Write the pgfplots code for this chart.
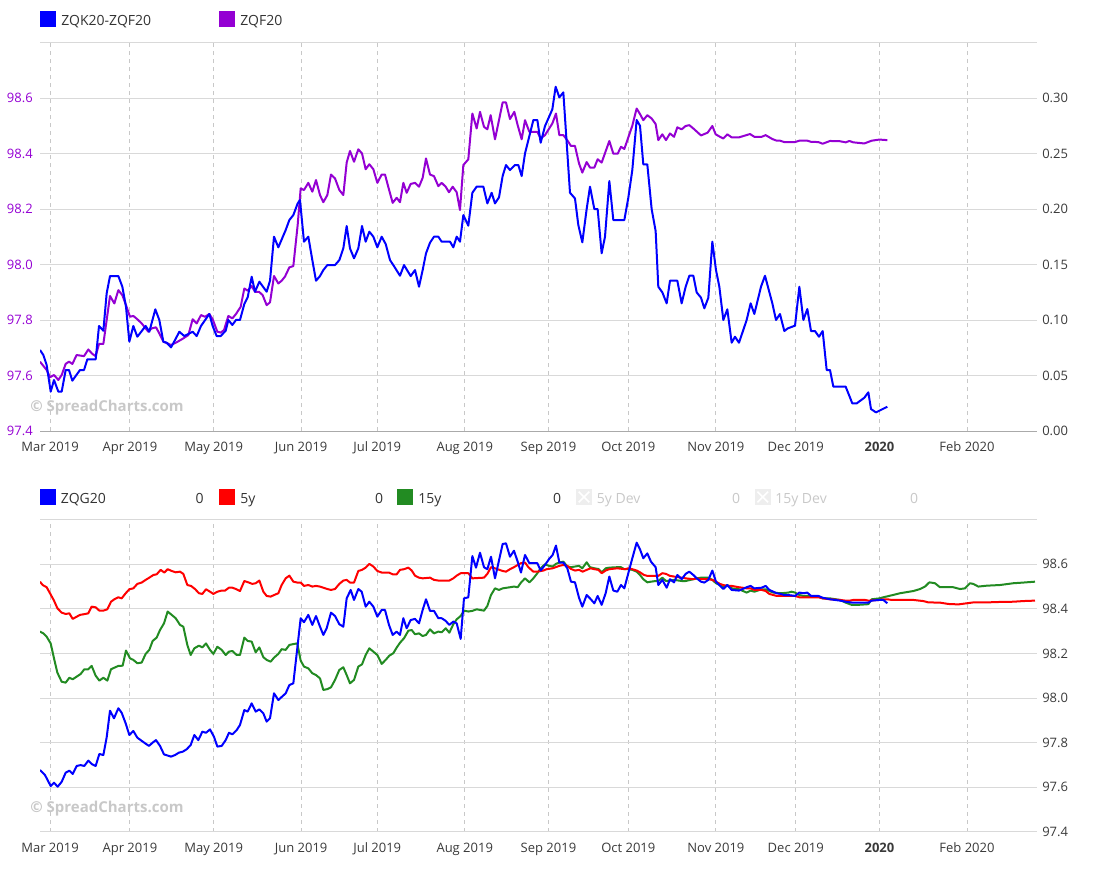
\documentclass[border=0pt]{standalone}
\usepackage{fontspec}
\setmainfont{Open Sans}
\usepackage{pgfplots}
\pgfplotsset{compat=1.18}
\definecolor{zqblue}{HTML}{0000FF}
\definecolor{zqpurple}{HTML}{9400D3}
\definecolor{fivered}{HTML}{FF0000}
\definecolor{fifgreen}{HTML}{228B22}
\definecolor{gridc}{HTML}{D9D9D9}
\definecolor{vgrid}{HTML}{C8C8C8}
\definecolor{axisc}{HTML}{AAAAAA}
\definecolor{labc}{HTML}{3A3A3A}
\definecolor{legc}{HTML}{333333}
\definecolor{hidc}{HTML}{C8C8C8}
\definecolor{hidbox}{HTML}{EEEEEE}
\definecolor{wmark}{HTML}{C8C8C8}
\pgfplotsset{
  common/.style={
    scale only axis, width=747.75pt,
    xmin=-2.63, xmax=259.4,
    xtick={0,21,43,66,86,109,131,152,175,196,218,241},
    xticklabels={Mar 2019,Apr 2019,May 2019,Jun 2019,Jul 2019,Aug 2019,Sep 2019,Oct 2019,Nov 2019,Dec 2019,{\bfseries 2020},Feb 2020},
    major tick length=0pt,
    tick style={draw=none},
    tick label style={font=\fontsize{9.75pt}{11pt}\selectfont, text=labc, inner sep=0pt},
    xticklabel style={anchor=base, yshift=-15.4pt},
    x grid style={vgrid, line width=0.75pt, dash pattern=on 3pt off 3pt},
    y grid style={gridc, line width=0.75pt},
    every axis plot/.append style={line width=1.5pt, line join=round, mark=none},
  },
}
\tikzset{
  legtext/.style={font=\fontsize{10.5pt}{12pt}\selectfont, text=legc, inner sep=0pt, anchor=base west},
  legval/.style={font=\fontsize{10.5pt}{12pt}\selectfont, text=legc, inner sep=0pt, anchor=base},
  wm/.style={font=\fontsize{11.25pt}{13pt}\selectfont\bfseries, text=wmark, inner sep=0pt, anchor=west},
}
\begin{document}
\begin{tikzpicture}
\useasboundingbox (0,0) rectangle (840pt,-651pt);
% watermarks (behind the plots)
\node[wm] at (22.5pt,-306pt) {© SpreadCharts.com};
\node[wm] at (22.5pt,-606.5pt) {© SpreadCharts.com};
% ---------------- top chart, left axis (ZQF20) ----------------
\begin{axis}[common, height=291.15pt, at={(30pt,-323.25pt)}, anchor=south west,
  ymin=97.4, ymax=98.8,
  ytick={97.4,97.6,97.8,98.0,98.2,98.4,98.6,98.8},
  yticklabels={97.4,97.6,97.8,98.0,98.2,98.4,98.6,{}},
  yticklabel style={anchor=east, xshift=-5.25pt, text=zqpurple},
  xmajorgrids, ymajorgrids,
  axis x line*=bottom, axis y line*=left, y axis line style={draw=none},
  x axis line style={draw=axisc, line width=0.75pt},
]
\addplot[zqpurple] coordinates {
(-2.63,97.650) (-0.88,97.620) (0.0,97.594) (1.05,97.602) (2.19,97.584) (3.07,97.602) (4.12,97.642) (4.99,97.650) (5.87,97.642) (7.01,97.674) (8.94,97.670) (10.07,97.694) (11.13,97.678) (12.0,97.670) (12.88,97.714) (14.02,97.714) (14.89,97.800) (15.77,97.887) (16.91,97.860) (17.96,97.908) (19.01,97.890) (19.97,97.854) (21.02,97.812) (21.9,97.815) (22.95,97.803) (24.09,97.788) (25.84,97.758) (26.72,97.770) (27.86,97.774) (28.73,97.752) (29.79,97.722) (30.92,97.716) (31.8,97.710) (33.29,97.720) (35.04,97.734) (36.36,97.746) (37.49,97.803) (38.55,97.788) (39.68,97.818) (40.74,97.812) (41.87,97.822) (42.75,97.803) (43.98,97.758) (44.85,97.755) (45.73,97.764) (46.87,97.815) (47.92,97.806) (48.88,97.822) (50.11,97.848) (51.07,97.914) (51.95,97.906) (53.0,97.923) (53.88,97.902) (54.93,97.902) (55.89,97.890) (56.94,97.854) (57.82,97.864) (58.87,97.959) (60.01,97.932) (60.88,97.942) (61.76,97.957) (62.9,97.990) (63.95,97.995) (65.09,98.143) (65.88,98.275) (66.75,98.269) (67.89,98.295) (68.94,98.263) (69.91,98.305) (70.96,98.251) (71.83,98.225) (72.89,98.251) (73.85,98.325) (74.9,98.311) (76.04,98.269) (77.09,98.251) (77.97,98.368) (78.84,98.410) (79.9,98.371) (81.03,98.416) (82.0,98.401) (82.96,98.344) (83.92,98.362) (84.98,98.344) (86.03,98.295) (87.17,98.325) (88.04,98.325) (89.09,98.271) (90.06,98.223) (91.11,98.241) (91.98,98.225) (92.86,98.295) (93.74,98.259) (94.79,98.291) (95.93,98.295) (96.98,98.281) (97.94,98.313) (98.82,98.383) (99.87,98.325) (100.92,98.319) (102.06,98.283) (102.93,98.295) (103.99,98.281) (104.86,98.261) (105.83,98.281) (106.88,98.261) (107.75,98.197) (108.63,98.359) (109.94,98.380) (111.0,98.545) (112.13,98.491) (113.01,98.551) (114.06,98.497) (114.94,98.488) (115.81,98.539) (116.95,98.452) (118.0,98.521) (118.96,98.585) (119.84,98.585) (120.89,98.525) (122.03,98.551) (122.91,98.503) (123.96,98.452) (124.84,98.521) (125.98,98.479) (128.08,98.479) (128.95,98.455) (130.09,98.467) (132.02,98.509) (132.98,98.545) (133.86,98.467) (134.91,98.467) (135.78,98.452) (136.92,98.428) (137.97,98.428) (139.03,98.365) (139.9,98.332) (141.04,98.370) (141.92,98.350) (143.06,98.350) (143.93,98.380) (144.98,98.368) (147.0,98.446) (148.05,98.400) (149.19,98.400) (150.07,98.425) (150.94,98.417) (153.04,98.501) (154.18,98.563) (155.06,98.543) (155.93,98.521) (156.98,98.539) (158.12,98.527) (159.17,98.507) (159.87,98.449) (160.93,98.470) (161.89,98.449) (162.94,98.473) (164.0,98.461) (164.87,98.495) (166.01,98.488) (167.06,98.500) (168.02,98.503) (169.08,98.491) (171.09,98.466) (172.84,98.476) (174.07,98.500) (174.95,98.470) (176.08,98.461) (176.96,98.455) (178.01,98.470) (179.15,98.459) (181.08,98.459) (183.97,98.471) (185.11,98.461) (187.04,98.461) (188.09,98.467) (189.84,98.453) (190.98,98.447) (191.85,98.447) (192.99,98.442) (195.8,98.442) (196.94,98.447) (199.04,98.447) (200.0,98.443) (201.93,98.442) (203.07,98.436) (205.0,98.446) (207.63,98.445) (209.11,98.441) (210.08,98.446) (211.13,98.441) (214.02,98.437) (215.94,98.447) (217.96,98.451) (220.06,98.449)
};
\end{axis}
% ---------------- top chart, right axis (ZQK20-ZQF20) ----------------
\begin{axis}[common, height=291.15pt, at={(30pt,-323.25pt)}, anchor=south west,
  ymin=0, ymax=0.35,
  ytick={0,0.05,0.10,0.15,0.20,0.25,0.30},
  yticklabels={0.00,0.05,0.10,0.15,0.20,0.25,0.30},
  yticklabel style={anchor=west, xshift=3.75pt},
  xtick=\empty,
  axis x line*=bottom, x axis line style={draw=none},
  axis y line*=right, y axis line style={draw=none},
]
\addplot[zqblue] coordinates {
(-2.63,0.0730) (-1.75,0.0685) (-0.88,0.0595) (0.18,0.0355) (1.05,0.046) (2.19,0.0355) (3.07,0.0355) (4.12,0.055) (4.99,0.055) (5.87,0.0454) (7.88,0.055) (8.94,0.055) (9.81,0.0646) (12.0,0.0646) (12.88,0.0947) (14.02,0.0904) (14.89,0.1241) (15.77,0.1397) (17.96,0.1397) (19.01,0.1301) (19.97,0.1121) (20.85,0.0805) (21.9,0.0947) (22.95,0.085) (25.14,0.0947) (26.1,0.0895) (27.68,0.1097) (28.73,0.1001) (29.79,0.0805) (30.66,0.0796) (31.8,0.0754) (32.85,0.082) (33.99,0.0895) (35.3,0.0856) (37.49,0.0895) (38.55,0.0856) (39.68,0.0947) (41.87,0.1055) (42.75,0.0947) (43.8,0.0856) (44.85,0.0856) (46.17,0.0904) (46.87,0.1001) (47.92,0.0956) (48.88,0.1001) (49.93,0.1001) (51.07,0.1145) (51.95,0.1205) (53.0,0.1391) (53.88,0.1256) (55.02,0.1346) (56.94,0.1256) (57.82,0.1355) (58.87,0.1752) (60.01,0.1656) (61.94,0.1812) (62.9,0.1902) (63.95,0.1947) (65.09,0.2052) (65.7,0.2082) (66.75,0.1707) (67.89,0.1752) (68.94,0.1541) (69.91,0.1355) (70.96,0.1397) (71.83,0.1451) (72.89,0.1496) (74.9,0.1496) (76.04,0.1541) (77.09,0.1647) (77.97,0.1848) (78.84,0.1647) (79.9,0.1557) (81.03,0.1647) (82.0,0.1848) (82.96,0.1707) (83.92,0.1797) (84.98,0.1752) (86.03,0.1656) (87.17,0.1752) (88.22,0.1686) (89.36,0.1541) (90.23,0.1496) (91.98,0.14) (93.04,0.1496) (94.79,0.1397) (95.93,0.1451) (96.98,0.1301) (97.94,0.1451) (98.82,0.1602) (99.87,0.1698) (100.92,0.1752) (102.06,0.1752) (102.93,0.1707) (105.13,0.1707) (106.0,0.1656) (106.88,0.1752) (107.75,0.1707) (108.63,0.1947) (109.94,0.1851) (111.0,0.2148) (112.13,0.2203) (113.89,0.2203) (114.94,0.2052) (116.07,0.2148) (116.95,0.2052) (118.0,0.2106) (118.96,0.2299) (119.84,0.2398) (120.89,0.2353) (122.21,0.2398) (123.08,0.2398) (123.96,0.2299) (124.84,0.2503) (127.03,0.2804) (128.08,0.2804) (128.95,0.2599) (130.09,0.2749) (132.02,0.29) (132.89,0.3104) (133.86,0.3008) (134.91,0.3053) (136.66,0.2148) (137.97,0.2097) (138.85,0.1857) (139.9,0.1701) (141.04,0.2001) (141.92,0.2203) (143.06,0.2001) (143.93,0.2001) (144.98,0.1602) (145.86,0.1752) (147.0,0.2254) (148.05,0.1902) (150.94,0.1902) (151.99,0.2103) (153.04,0.2353) (154.18,0.2804) (155.06,0.2752) (155.93,0.2404) (156.98,0.2404) (158.12,0.2001) (159.17,0.1803) (159.87,0.1301) (160.93,0.125) (162.07,0.1151) (162.94,0.1355) (164.87,0.1355) (166.01,0.1151) (167.06,0.1301) (168.02,0.14) (169.08,0.14) (169.95,0.125) (171.09,0.1202) (171.97,0.1106) (173.02,0.1202) (174.07,0.1707) (175.03,0.1451) (175.91,0.1301) (176.96,0.1001) (178.01,0.1097) (179.15,0.0796) (180.03,0.085) (181.08,0.0796) (183.09,0.1001) (184.14,0.1151) (185.11,0.1055) (186.86,0.1301) (187.91,0.14) (189.84,0.1151) (190.8,0.1001) (191.85,0.1055) (192.99,0.0901) (193.87,0.0925) (195.8,0.095) (196.94,0.1301) (197.99,0.1001) (199.04,0.11) (200.0,0.0901) (201.05,0.0901) (202.1,0.085) (203.07,0.0901) (204.12,0.055) (204.99,0.055) (205.87,0.04) (209.11,0.04) (210.86,0.0249) (212.0,0.0249) (214.02,0.03) (215.07,0.0349) (215.77,0.0198) (217.08,0.0168) (220.06,0.0219)
};
\end{axis}
% ---------------- bottom chart ----------------
\begin{axis}[common, height=234pt, at={(30pt,-623.78pt)}, anchor=south west,
  ymin=97.4, ymax=98.8,
  ytick={97.4,97.6,97.8,98.0,98.2,98.4,98.6,98.8},
  yticklabels={97.4,97.6,97.8,98.0,98.2,98.4,98.6,{}},
  yticklabel pos=right,
  yticklabel style={anchor=west, xshift=3.75pt},
  xmajorgrids, ymajorgrids,
  axis line style={draw=none},
]
\addplot[fifgreen] coordinates {
(-2.63,98.298) (-1.75,98.290) (-0.88,98.275) (0.18,98.245) (1.05,98.178) (1.93,98.114) (3.07,98.073) (4.12,98.069) (5.08,98.091) (5.96,98.084) (7.01,98.096) (8.06,98.108) (9.02,98.129) (10.07,98.129) (10.95,98.144) (12.0,98.100) (12.97,98.078) (14.02,98.091) (15.07,98.078) (16.03,98.129) (16.91,98.136) (17.96,98.144) (19.1,98.145) (19.97,98.213) (21.02,98.178) (21.9,98.171) (22.95,98.156) (24.09,98.159) (25.14,98.198) (26.1,98.216) (26.98,98.256) (28.03,98.271) (28.91,98.305) (29.96,98.335) (30.92,98.388) (31.98,98.373) (33.03,98.358) (34.17,98.328) (35.04,98.320) (36.09,98.238) (36.97,98.193) (37.93,98.223) (39.16,98.235) (40.04,98.227) (41.0,98.245) (42.05,98.216) (42.93,98.198) (43.98,98.230) (45.12,98.216) (46.17,98.193) (47.04,98.208) (47.92,98.211) (49.06,98.193) (49.93,98.193) (51.07,98.271) (51.95,98.256) (53.0,98.253) (54.05,98.205) (55.02,98.227) (56.07,98.183) (56.94,98.171) (57.99,98.163) (58.87,98.181) (60.01,98.198) (60.88,98.219) (61.94,98.216) (62.9,98.238) (63.95,98.242) (65.0,98.245) (65.88,98.168) (66.75,98.141) (67.89,98.133) (68.94,98.111) (69.91,98.103) (70.96,98.088) (71.83,98.036) (72.89,98.040) (73.85,98.048) (74.9,98.081) (76.04,98.126) (77.09,98.138) (77.97,98.103) (78.84,98.066) (79.9,98.081) (81.03,98.141) (82.0,98.151) (82.96,98.193) (83.92,98.223) (84.98,98.208) (86.03,98.193) (87.17,98.153) (88.22,98.171) (89.18,98.190) (90.23,98.201) (91.11,98.226) (91.98,98.248) (93.04,98.268) (94.18,98.302) (95.06,98.305) (95.93,98.286) (96.98,98.290) (97.94,98.278) (98.82,98.283) (99.87,98.308) (100.92,98.290) (102.06,98.298) (102.93,98.295) (103.99,98.313) (104.95,98.293) (106.0,98.331) (106.88,98.353) (107.93,98.368) (108.8,98.392) (109.94,98.388) (111.0,98.391) (112.13,98.398) (114.06,98.392) (114.94,98.413) (115.9,98.462) (116.95,98.492) (118.0,98.485) (118.96,98.492) (120.89,98.497) (121.94,98.500) (122.91,98.497) (123.78,98.518) (124.84,98.537) (125.98,98.519) (127.03,98.537) (128.08,98.560) (128.95,98.582) (130.09,98.600) (131.14,98.593) (132.11,98.590) (132.98,98.602) (133.86,98.608) (134.91,98.612) (135.96,98.590) (136.92,98.587) (137.97,98.590) (139.03,98.593) (139.9,98.582) (141.04,98.609) (141.92,98.587) (143.06,98.582) (144.11,98.579) (144.98,98.564) (146.03,98.582) (147.0,98.585) (149.1,98.587) (150.07,98.587) (150.94,98.578) (151.99,98.578) (153.04,98.575) (154.18,98.567) (155.06,98.552) (155.93,98.533) (156.98,98.519) (157.94,98.522) (159.17,98.525) (159.87,98.525) (160.93,98.540) (161.89,98.525) (162.94,98.527) (164.0,98.530) (166.01,98.525) (167.06,98.525) (169.08,98.533) (169.95,98.537) (171.09,98.540) (173.02,98.540) (174.07,98.530) (175.03,98.515) (176.08,98.507) (176.96,98.497) (178.01,98.507) (179.15,98.492) (181.08,98.488) (183.09,98.473) (184.14,98.482) (185.11,98.477) (187.04,98.488) (188.09,98.488) (189.05,98.480) (190.1,98.473) (192.03,98.470) (194.04,98.473) (194.92,98.477) (195.8,98.473) (196.94,98.462) (197.99,98.458) (200.0,98.458) (201.93,98.455) (203.07,98.447) (205.0,98.447) (207.63,98.440) (209.11,98.428) (210.69,98.418) (212.44,98.418) (215.07,98.421) (215.94,98.443) (217.96,98.447) (219.01,98.452) (220.76,98.459) (223.39,98.470) (226.9,98.480) (228.65,98.489) (229.96,98.500) (231.1,98.519) (232.59,98.515) (233.9,98.497) (237.41,98.497) (239.16,98.489) (240.47,98.492) (241.79,98.515) (242.66,98.512) (243.98,98.500) (246.17,98.504) (249.67,98.507) (253.17,98.515) (255.8,98.518) (258.87,98.522)
};
\addplot[fivered] coordinates {
(-2.63,98.522) (-1.93,98.507) (-0.88,98.497) (0.0,98.470) (1.05,98.437) (1.93,98.403) (3.07,98.383) (4.12,98.377) (5.08,98.380) (5.96,98.355) (7.88,98.373) (8.94,98.376) (10.07,98.380) (10.95,98.410) (12.0,98.407) (12.97,98.392) (14.02,98.392) (15.07,98.398) (16.03,98.432) (16.91,98.443) (17.96,98.452) (18.83,98.447) (19.89,98.470) (20.85,98.488) (21.9,98.492) (22.95,98.512) (24.09,98.518) (25.14,98.530) (26.1,98.540) (27.16,98.552) (28.03,98.555) (29.08,98.575) (30.05,98.563) (30.92,98.578) (31.98,98.570) (33.03,98.564) (34.17,98.567) (35.04,98.557) (36.09,98.507) (37.06,98.503) (38.11,98.489) (39.16,98.470) (40.04,98.467) (41.0,98.488) (42.05,98.477) (42.93,98.467) (43.98,98.477) (45.12,98.482) (45.99,98.482) (47.04,98.495) (47.92,98.495) (48.88,98.489) (49.93,98.480) (51.07,98.525) (52.12,98.519) (53.18,98.512) (54.05,98.515) (55.02,98.527) (56.07,98.477) (56.94,98.458) (57.99,98.455) (58.87,98.462) (60.01,98.470) (60.88,98.507) (61.94,98.537) (62.9,98.549) (63.95,98.522) (65.0,98.518) (65.88,98.518) (66.75,98.503) (67.89,98.507) (68.94,98.500) (69.91,98.503) (70.96,98.500) (71.83,98.495) (72.89,98.489) (73.85,98.485) (74.9,98.489) (76.04,98.512) (77.09,98.527) (77.97,98.530) (78.84,98.518) (79.9,98.518) (81.03,98.570) (82.0,98.575) (82.96,98.585) (83.92,98.602) (84.98,98.590) (86.03,98.570) (87.17,98.563) (89.09,98.563) (90.06,98.555) (91.11,98.555) (91.98,98.575) (93.04,98.578) (94.18,98.585) (95.06,98.572) (95.93,98.549) (96.98,98.540) (97.94,98.537) (99.87,98.540) (100.92,98.530) (102.06,98.527) (103.99,98.527) (104.95,98.527) (106.0,98.537) (106.88,98.549) (107.93,98.560) (109.94,98.560) (111.0,98.537) (114.06,98.540) (114.94,98.557) (115.9,98.587) (116.95,98.582) (118.96,98.570) (119.84,98.567) (120.89,98.578) (121.94,98.587) (122.91,98.597) (123.78,98.605) (124.84,98.608) (125.72,98.587) (127.03,98.567) (128.08,98.567) (129.66,98.572) (130.53,98.578) (132.11,98.582) (133.86,98.593) (134.91,98.597) (135.96,98.593) (136.92,98.579) (137.97,98.572) (139.03,98.575) (139.99,98.567) (141.04,98.575) (142.09,98.582) (143.06,98.578) (144.11,98.575) (144.98,98.560) (146.03,98.572) (147.0,98.578) (149.1,98.582) (151.12,98.578) (151.99,98.582) (153.04,98.578) (154.18,98.572) (155.06,98.564) (156.11,98.552) (156.98,98.548) (159.87,98.548) (160.93,98.560) (161.89,98.557) (162.94,98.548) (164.0,98.545) (166.01,98.540) (167.06,98.537) (169.08,98.533) (169.95,98.537) (171.09,98.533) (173.02,98.533) (174.07,98.530) (175.03,98.522) (176.08,98.512) (176.96,98.507) (178.01,98.503) (179.15,98.503) (181.08,98.497) (183.09,98.492) (184.14,98.492) (185.11,98.485) (187.04,98.485) (188.09,98.480) (189.05,98.467) (190.98,98.458) (195.8,98.458) (196.94,98.452) (201.93,98.452) (203.07,98.447) (205.0,98.443) (207.63,98.440) (209.11,98.437) (210.25,98.437) (211.13,98.440) (214.2,98.440) (215.07,98.437) (217.96,98.440) (219.01,98.443) (220.06,98.443) (221.2,98.440) (226.9,98.440) (229.53,98.435) (230.84,98.429) (233.9,98.428) (236.09,98.422) (238.72,98.420) (240.91,98.425) (242.66,98.429) (246.17,98.429) (249.67,98.431) (253.17,98.432) (255.8,98.435) (258.87,98.437)
};
\addplot[zqblue] coordinates {
(-2.63,97.677) (-1.31,97.654) (0.18,97.605) (1.05,97.620) (2.01,97.602) (3.07,97.624) (4.12,97.665) (5.08,97.674) (5.96,97.659) (7.01,97.695) (8.06,97.699) (9.02,97.695) (10.07,97.719) (10.95,97.704) (12.0,97.695) (12.97,97.749) (14.02,97.744) (14.89,97.823) (15.77,97.943) (16.82,97.909) (17.96,97.954) (18.83,97.934) (19.89,97.886) (20.85,97.834) (21.9,97.852) (22.95,97.822) (24.97,97.797) (26.02,97.785) (26.98,97.800) (27.86,97.811) (28.91,97.785) (29.96,97.747) (31.8,97.737) (32.85,97.744) (33.9,97.755) (34.87,97.759) (35.92,97.770) (36.97,97.789) (37.93,97.834) (38.98,97.811) (40.04,97.849) (41.0,97.844) (42.05,97.859) (43.1,97.826) (43.98,97.782) (45.12,97.785) (46.17,97.811) (47.04,97.844) (47.92,97.837) (49.06,97.856) (49.93,97.879) (51.07,97.946) (51.95,97.939) (53.0,97.976) (54.05,97.939) (55.02,97.949) (56.07,97.931) (56.94,97.894) (57.82,97.909) (58.87,98.021) (60.01,97.991) (61.94,98.021) (62.9,98.058) (63.95,98.066) (65.88,98.358) (66.75,98.340) (67.89,98.373) (68.94,98.328) (69.91,98.368) (70.96,98.320) (71.83,98.283) (72.71,98.313) (73.85,98.383) (74.9,98.368) (76.04,98.331) (77.09,98.320) (77.97,98.447) (79.02,98.485) (79.9,98.440) (81.03,98.489) (81.91,98.477) (82.96,98.410) (83.92,98.432) (84.98,98.410) (86.03,98.365) (87.17,98.395) (88.04,98.395) (89.09,98.328) (90.06,98.283) (91.11,98.298) (91.98,98.283) (92.86,98.358) (93.74,98.313) (94.79,98.350) (95.93,98.355) (96.98,98.335) (97.94,98.395) (98.82,98.443) (99.87,98.391) (100.92,98.391) (102.06,98.358) (102.93,98.358) (103.99,98.346) (104.95,98.328) (106.0,98.343) (106.88,98.335) (107.93,98.265) (108.8,98.447) (109.94,98.452) (111.0,98.637) (111.96,98.585) (113.01,98.652) (114.06,98.587) (114.94,98.578) (115.9,98.634) (116.95,98.537) (118.0,98.617) (118.96,98.691) (119.84,98.694) (120.89,98.634) (121.94,98.661) (122.91,98.612) (123.78,98.563) (124.84,98.642) (125.98,98.605) (128.08,98.605) (128.95,98.572) (130.09,98.597) (131.14,98.623) (132.11,98.642) (132.98,98.684) (133.86,98.608) (134.91,98.608) (135.96,98.582) (136.92,98.522) (137.97,98.519) (139.03,98.450) (139.9,98.410) (141.04,98.462) (141.92,98.447) (143.06,98.425) (143.93,98.458) (144.98,98.418) (146.03,98.470) (147.0,98.545) (148.05,98.482) (149.1,98.477) (150.07,98.507) (150.94,98.492) (151.99,98.560) (153.04,98.627) (154.18,98.697) (155.06,98.667) (155.93,98.627) (156.98,98.649) (157.94,98.612) (159.17,98.587) (159.87,98.507) (160.93,98.530) (162.07,98.495) (162.94,98.533) (164.0,98.519) (164.87,98.552) (166.01,98.533) (167.06,98.557) (168.02,98.567) (169.08,98.552) (169.95,98.537) (171.09,98.522) (171.97,98.518) (173.02,98.530) (174.07,98.572) (175.03,98.522) (176.08,98.504) (176.96,98.489) (178.01,98.507) (179.15,98.485) (181.08,98.482) (183.09,98.497) (184.14,98.503) (185.11,98.492) (187.04,98.495) (188.09,98.503) (189.05,98.485) (190.1,98.477) (190.98,98.470) (192.03,98.467) (192.99,98.462) (194.04,98.462) (195.8,98.458) (196.94,98.473) (197.99,98.470) (199.04,98.473) (200.0,98.458) (201.93,98.458) (203.07,98.450) (205.0,98.443) (207.63,98.437) (209.11,98.432) (210.86,98.428) (215.07,98.428) (215.94,98.437) (217.96,98.440) (219.01,98.440) (220.06,98.425)
};
\end{axis}
% ---------------- legends ----------------
\fill[zqblue] (30pt,-8.25pt) rectangle (42pt,-20.25pt);
\node[legtext] at (45.75pt,-18.75pt) {ZQK20-ZQF20};
\fill[zqpurple] (164.25pt,-8.25pt) rectangle (176.25pt,-20.25pt);
\node[legtext] at (180pt,-18.75pt) {ZQF20};
% bottom legend
\fill[zqblue] (30.3pt,-366.75pt) rectangle (42.3pt,-378.75pt);
\node[legtext] at (45.5pt,-377.25pt) {ZQG20};
\node[legval] at (149.7pt,-377.25pt) {0};
\fill[fivered] (164.25pt,-366.75pt) rectangle (176.25pt,-378.75pt);
\node[legtext] at (180pt,-377.25pt) {5y};
\node[legval] at (284.25pt,-377.25pt) {0};
\fill[fifgreen] (297.75pt,-366.75pt) rectangle (309.75pt,-378.75pt);
\node[legtext] at (313.5pt,-377.25pt) {15y};
\node[legval] at (417.75pt,-377.25pt) {0};
\fill[hidbox] (432pt,-366.75pt) rectangle (444pt,-378.75pt);
\draw[white, line width=1.2pt] (434pt,-368.75pt) -- (442pt,-376.75pt) (434pt,-376.75pt) -- (442pt,-368.75pt);
\node[legtext, text=hidc] at (447.45pt,-377.25pt) {5y Dev};
\node[legval, text=hidc] at (552pt,-377.25pt) {0};
\fill[hidbox] (566pt,-366.75pt) rectangle (578pt,-378.75pt);
\draw[white, line width=1.2pt] (568pt,-368.75pt) -- (576pt,-376.75pt) (568pt,-376.75pt) -- (576pt,-368.75pt);
\node[legtext, text=hidc] at (581.25pt,-377.25pt) {15y Dev};
\node[legval, text=hidc] at (685.5pt,-377.25pt) {0};
\end{tikzpicture}
\end{document}
